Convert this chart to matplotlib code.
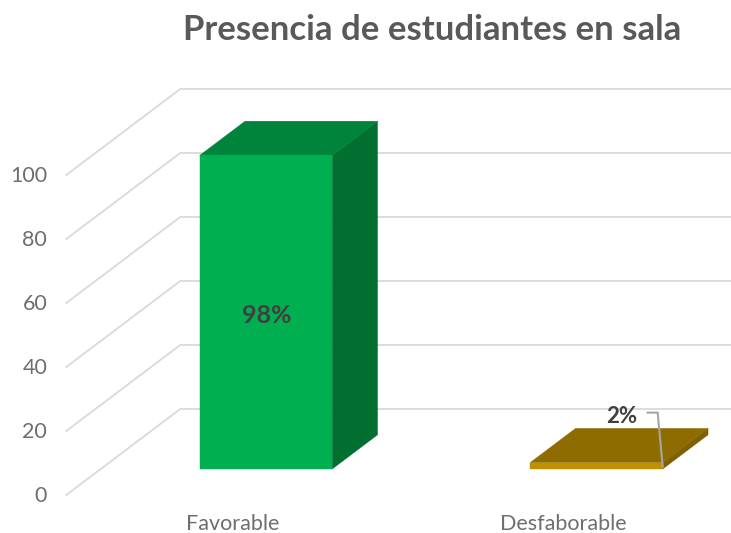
import matplotlib
matplotlib.use("Agg")
import numpy as np
import matplotlib.pyplot as plt
from matplotlib.patches import Polygon

plt.rcParams['font.family'] = ['Lato', 'DejaVu Sans']

categories = ["Favorable", "Desfaborable"]
values = [98, 2]
labels = ["98%", "2%"]
ticks = [0, 20, 40, 60, 80, 100]

front_colors = ["#00B050", "#BF9000"]
top_colors = ["#00843C", "#8F6C00"]
side_colors = ["#006F30", "#7F6000"]

W, H = 731, 533
# pixels per category / per value unit
px_cat = 330.5
px_val = 3.2
# depth of the 3d box in pixels
depth_x = 114.0
depth_y = 86.0
x0_px = 231.5   # first category on the front plane
y0_px = 495.0   # value 0 on the front plane

bar_w = 132.5 / px_cat
bar_d0 = 0.302
bar_d1 = 0.70


def project(c, v, d):
    # oblique projection, depth d goes 0 (front) to 1 (back wall)
    return (c + d * depth_x / px_cat, v + d * depth_y / px_val)


def box(i, c, v):
    l, r = c - bar_w / 2, c + bar_w / 2
    front = [project(l, 0, bar_d0), project(r, 0, bar_d0),
             project(r, v, bar_d0), project(l, v, bar_d0)]
    side = [project(r, 0, bar_d0), project(r, 0, bar_d1),
            project(r, v, bar_d1), project(r, v, bar_d0)]
    top = [project(l, v, bar_d0), project(r, v, bar_d0),
           project(r, v, bar_d1), project(l, v, bar_d1)]
    ax.add_patch(Polygon(side, closed=True, fc=side_colors[i], ec=side_colors[i], lw=0.3, zorder=3))
    ax.add_patch(Polygon(top, closed=True, fc=top_colors[i], ec=top_colors[i], lw=0.3, zorder=3))
    ax.add_patch(Polygon(front, closed=True, fc=front_colors[i], ec=front_colors[i], lw=0.3, zorder=4))


fig = plt.figure(figsize=(W / 100, H / 100), dpi=100)
ax = fig.add_axes([0, 0, 1, 1])
ax.set_xlim(-x0_px / px_cat, (W - x0_px) / px_cat)
ax.set_ylim((y0_px - H) / px_val, y0_px / px_val)
ax.axis("off")

left = -0.5
for t in ticks:
    xs, ys = zip(project(left, t, 0), project(left, t, 1), project(1.9, t, 1))
    ax.plot(xs, ys, color="#D9D9D9", lw=1.3, zorder=1, solid_joinstyle="miter")
    ax.annotate(str(t), (left, t), xytext=(-19, -1), textcoords="offset pixels",
                ha="right", va="center", fontsize=15.5, color="#6E6E6E")

for i, (c, v) in enumerate(zip(range(len(values)), values)):
    box(i, c, v)
    ax.annotate(categories[i], (c, 0), xytext=(1, -29), textcoords="offset pixels",
                ha="center", va="center", fontsize=15.5, color="#6E6E6E")

# 98% sits in the middle of the front face
p = project(0, values[0] / 2, bar_d0)
ax.text(p[0] + 1 / px_cat, p[1] - 3 / px_val, labels[0], ha="center", va="center", fontsize=18,
        fontweight="bold", color="#404040", zorder=5)

# 2% has a leader line to the corner of the flat bar
end = project(1 + bar_w / 2, values[1], bar_d0)
lx = [end[0] - 15 / px_cat, end[0] - 5 / px_cat, end[0]]
ly = [end[1] + 50 / px_val, end[1] + 50 / px_val, end[1] - 4 / px_val]
ax.plot(lx, ly, color="#A6A6A6", lw=1.5, zorder=6, solid_joinstyle="miter")
ax.text(end[0] - 25 / px_cat, end[1] + 46 / px_val, labels[1], ha="right", va="center",
        fontsize=16, fontweight="bold", color="#404040", zorder=6)

fig.text(432.5 / W, 1 - 30 / H, "Presencia de estudiantes en sala", ha="center", va="center",
         fontsize=25, fontweight="bold", color="#595959")

fig.savefig("out.png", dpi=100)
